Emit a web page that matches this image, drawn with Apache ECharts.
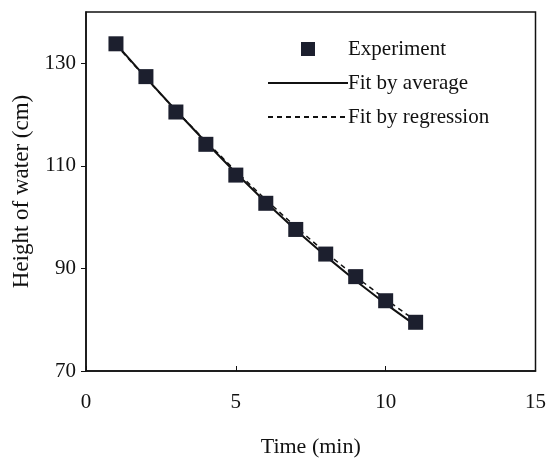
<!DOCTYPE html>
<html>
<head>
<meta charset="utf-8">
<script src="https://cdn.jsdelivr.net/npm/echarts@6/dist/echarts.min.js"></script>
<style>
  html, body { margin: 0; padding: 0; background: #fff; }
  #chart { width: 549px; height: 463px; }
</style>
</head>
<body>
<div id="chart"></div>
<script>
// time (min) and measured height of water (cm)
var timeList = [1, 2, 3, 4, 5, 6, 7, 8, 9, 10, 11]
var experimentList = [133.8, 127.4, 120.5, 114.2, 108.2, 102.7, 97.6, 92.8, 88.4, 83.7, 79.5]
var fitAverageList = [133.8, 127.2, 120.8, 114.6, 108.6, 102.9, 97.5, 92.4, 87.6, 83.1, 78.9]
var fitRegressionList = [133.6, 127.1, 120.8, 114.8, 109.0, 103.4, 98.1, 93.1, 88.4, 84.0, 79.8]
var xTicks = [0, 5, 10, 15]
var yTicks = [70, 90, 110, 130]

function pairs(vals) {
  return timeList.map(function (t, i) { return [t, vals[i]] })
}

var font = 'Liberation Serif'
var chart = echarts.init(document.getElementById('chart'))
var option = {
  animation: false,
  backgroundColor: '#fff',
  grid: {
    left: 86,
    right: 13,
    top: 12,
    bottom: 86,
    show: true,
    borderColor: '#111',
    borderWidth: 1.5
  },
  legend: {
    orient: 'vertical',
    left: 262,
    top: 32,
    itemWidth: 80,
    itemHeight: 14,
    itemGap: 10,
    symbolKeepAspect: true,
    textStyle: {
      fontFamily: font,
      fontSize: 21,
      color: '#111',
      lineHeight: 24,
      padding: [0, 0, 0, -5]
    },
    data: [
      { name: 'Experiment', icon: 'path://M0,0L10,0L10,10L0,10Z' },
      { name: 'Fit by average', itemStyle: { opacity: 0 } },
      { name: 'Fit by regression', itemStyle: { opacity: 0 } }
    ]
  },
  xAxis: {
    type: 'value',
    min: xTicks[0],
    max: xTicks[xTicks.length - 1],
    interval: 5,
    name: 'Time (min)',
    nameLocation: 'middle',
    nameGap: 65,
    nameTextStyle: { fontFamily: font, fontSize: 22, color: '#111' },
    axisLine: { lineStyle: { color: '#111', width: 1.5 } },
    axisTick: { inside: true, length: 5, lineStyle: { color: '#111' } },
    axisLabel: { fontFamily: font, fontSize: 21, color: '#111', margin: 21 },
    splitLine: { show: false }
  },
  yAxis: {
    type: 'value',
    min: yTicks[0],
    max: 140,
    interval: 20,
    name: 'Height of water (cm)',
    nameLocation: 'middle',
    nameGap: 52,
    nameTextStyle: { fontFamily: font, fontSize: 23, color: '#111' },
    axisLine: { lineStyle: { color: '#111', width: 1.5 } },
    axisTick: { length: 5, lineStyle: { color: '#111' } },
    axisLabel: { fontFamily: font, fontSize: 21, color: '#111', margin: 10, showMaxLabel: false },
    splitLine: { show: false }
  },
  series: [
    {
      name: 'Fit by average',
      type: 'line',
      data: pairs(fitAverageList),
      symbol: 'none',
      lineStyle: { color: '#111', width: 2 },
      itemStyle: { color: '#111' },
      z: 2
    },
    {
      name: 'Fit by regression',
      type: 'line',
      data: pairs(fitRegressionList),
      symbol: 'none',
      lineStyle: { color: '#111', width: 1.5, type: [5, 4] },
      itemStyle: { color: '#111' },
      z: 2
    },
    {
      name: 'Experiment',
      type: 'scatter',
      data: pairs(experimentList),
      symbol: 'rect',
      symbolSize: 15,
      itemStyle: { color: '#1c1f2e', opacity: 1 },
      z: 3
    }
  ]
}
option && chart.setOption(option)
</script>
</body>
</html>
